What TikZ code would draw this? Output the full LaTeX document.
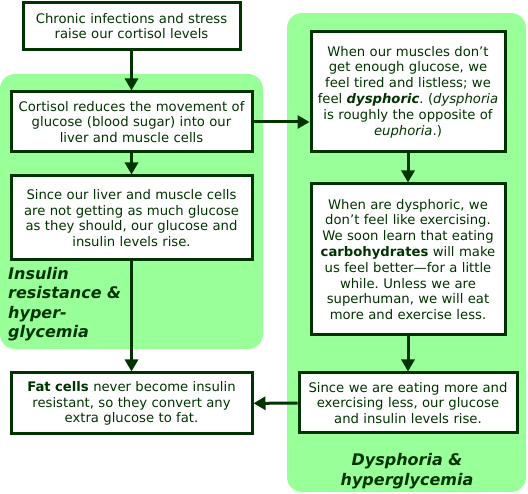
\documentclass[tikz,border=0pt]{standalone}
\usepackage{fontspec}
\setmainfont{DejaVu Sans}
\usetikzlibrary{arrows.meta}
\frenchspacing
\definecolor{darkgrn}{RGB}{0,51,0}
\definecolor{groupgrn}{RGB}{153,255,153}
\tikzset{
  stepbox/.style={draw=darkgrn, line width=3pt, fill=white, text=darkgrn,
    inner sep=0pt, align=center, font=\fontsize{13.2}{15.8}\selectfont},
  flow/.style={draw=darkgrn, line width=3pt, -{Triangle[width=13pt,length=12pt]}},
  groupbg/.style={fill=groupgrn, rounded corners=15pt},
  grouplabel/.style={text=darkgrn, inner sep=0pt, font=\fontsize{16}{19.5}\selectfont\bfseries\itshape}
}
\begin{document}
\begin{tikzpicture}[x=1pt,y=-1pt]
                % Page and margins
                \fill [white] (0,0) rectangle (528,494);
                \useasboundingbox (0,0) rectangle (528,494);

                % Drawing group backgrounds
                \fill [groupbg] (0,74) rectangle (263,349);
                \fill [groupbg] (287,13) rectangle (526,492);

                % Marking group labels
                \node (insulinlbl) [grouplabel, anchor=north west, align=left] at (8,267)
                  {Insulin\\resistance \&\\hyper-\\glycemia};
                \node (dysphlbl) [grouplabel, align=center] at (407,471)
                  {Dysphoria \&\\hyperglycemia};

                % Drawing left column boxes
                \node (chronic) [stepbox, minimum width=217, minimum height=47, text width=214] at (131.5,26)
                  {Chronic infections and stress\\raise our cortisol levels};
                \node (cortisol) [stepbox, minimum width=241, minimum height=60, text width=238] at (131.5,122)
                  {Cortisol reduces the movement of\\glucose (blood sugar) into our\\liver and muscle cells};
                \node (liver) [stepbox, minimum width=241, minimum height=84, text width=238] at (131.5,218)
                  {Since our liver and muscle cells\\are not getting as much glucose\\as they should, our glucose and\\insulin levels rise.};
                \node (fatcells) [stepbox, minimum width=241, minimum height=61, text width=238] at (131.5,403.5)
                  {\textbf{Fat cells} never become insulin\\resistant, so they convert any\\extra glucose to fat.};

                % Drawing right column boxes
                \node (muscles) [stepbox, minimum width=194, minimum height=120, text width=191] at (408,92)
                  {When our muscles don’t\\get enough glucose, we\\feel tired and listless; we\\feel \textbf{\textit{dysphoric}}. (\textit{dysphoria}\\is roughly the opposite of\\\textit{euphoria}.)};
                \node (exercise) [stepbox, minimum width=194, minimum height=151, text width=191] at (408,259.5)
                  {When are dysphoric, we\\don’t feel like exercising.\\We soon learn that eating\\\textbf{carbohydrates} will make\\us feel better—for a little\\while. Unless we are\\superhuman, we will eat\\more and exercise less.};
                \node (eating) [stepbox, minimum width=218, minimum height=60, text width=215] at (408,403)
                  {Since we are eating more and\\exercising less, our glucose\\and insulin levels rise.};

                % Drawing connectors
                \draw [flow] (chronic) -- (cortisol);
                \draw [flow] (cortisol) -- (liver);
                \draw [flow] (liver) -- (fatcells);
                \draw [flow] (cortisol.east) -- (cortisol.east -| muscles.west);
                \draw [flow] (muscles) -- (exercise);
                \draw [flow] (exercise) -- (eating);
                \draw [flow] (eating) -- (fatcells);
\end{tikzpicture}
\end{document}
